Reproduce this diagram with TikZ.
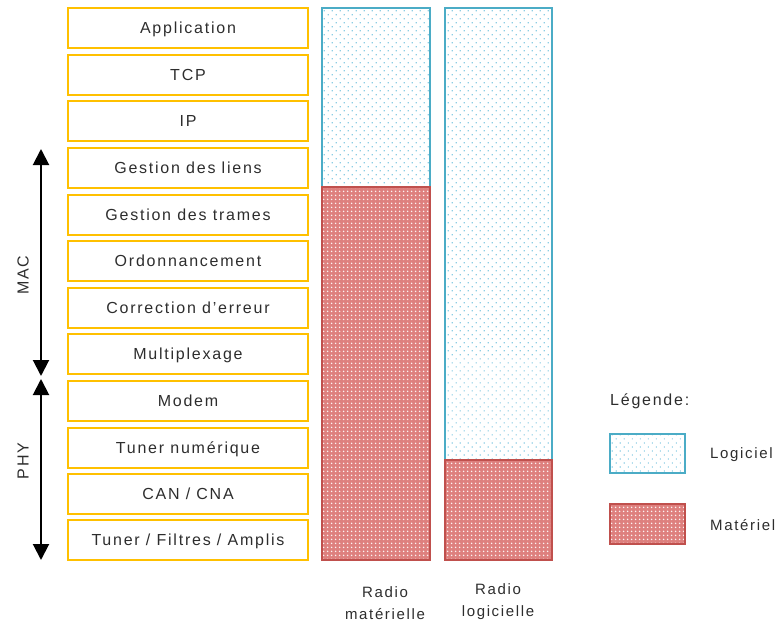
\documentclass[tikz,border=0pt]{standalone}
\usepackage{fontspec}
\setmainfont{Liberation Sans}[LetterSpace=11]
\usetikzlibrary{arrows.meta,patterns.meta,positioning}
\definecolor{layerborder}{RGB}{255,192,0}
\definecolor{swblue}{RGB}{75,172,198}
\definecolor{swdot}{RGB}{140,205,228}
\definecolor{hwred}{RGB}{192,80,77}
\definecolor{hwfill}{RGB}{222,128,126}
\definecolor{txt}{RGB}{45,45,45}
\tikzset{
  layer/.style={draw=layerborder, line width=1.2pt, minimum width=240pt, minimum height=40pt,
    inner sep=0pt, text height=11.5pt, text depth=0pt, text=txt, font=\fontsize{16}{18}\selectfont},
  soft/.style={draw=swblue, line width=1.2pt,
    pattern={Dots[distance=5.66pt,radius=0.85pt,angle=45]}, pattern color=swdot},
  hard/.style={draw=hwred, line width=1.2pt, preaction={fill=hwfill},
    pattern={Dots[distance=4pt,radius=1pt]}, pattern color=white!90!hwfill},
  label/.style={text=txt, font=\fontsize{16}{22}\selectfont, align=center, inner sep=0pt},
  small/.style={label, font=\fontsize{15}{22}\selectfont},
  span/.style={line width=2pt, {Triangle[width=16pt,length=16pt]}-{Triangle[width=16pt,length=16pt]}}
}
\begin{document}
\begin{tikzpicture}[x=1pt,y=-1pt]
\useasboundingbox (0,0) rectangle (778,623);
% protocol layers
\foreach \n/\t/\y in {l1/{Application}/28, l2/{TCP}/75, l3/{IP}/121, l4/{Gestion des liens}/168,
  l5/{Gestion des trames}/215, l6/{Ordonnancement}/261, l7/{Correction d’erreur}/308,
  l8/{Multiplexage}/354, l9/{Modem}/401, l10/{Tuner numérique}/448, l11/{CAN / CNA}/494,
  l12/{Tuner / Filtres / Amplis}/540}
  \node[layer] (\n) at (188,\y) {\t};
% hardware radio column
\path[soft] (322,8) rectangle (430,187);
\path[hard] (322,187) rectangle (430,560);
\node[small] (hwname) at (385,603) {Radio\\matérielle};
% software radio column
\path[soft] (445,8) rectangle (552,460);
\path[hard] (445,460) rectangle (552,560);
\node[small] (swname) at (498,602) {Radio\\logicielle};
% MAC / PHY spans
\coordinate (macTop) at (41,149);
\coordinate (macBot) at (41,376);
\coordinate (phyTop) at (41,379);
\coordinate (phyBot) at (41,560);
\draw[span] (macTop) -- (macBot);
\draw[span] (phyTop) -- (phyBot);
\node[label, rotate=90] (mac) at (23,275) {MAC};
\node[label, rotate=90] (phy) at (23,461) {PHY};
% legend
\node[label, anchor=west] (leg) at (610,401) {Légende:};
\path[soft] (610,434) rectangle (685,473);
\node[small, anchor=west] (legsw) at (710,455) {Logiciel};
\path[hard] (610,504) rectangle (685,544);
\node[small, anchor=west] (leghw) at (710,525) {Matériel};
\end{tikzpicture}
\end{document}
